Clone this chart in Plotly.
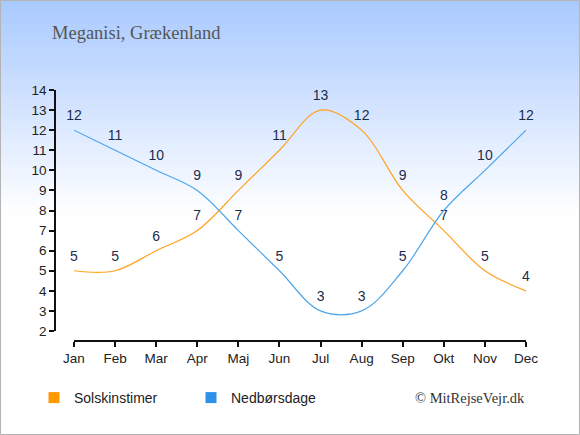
import plotly.graph_objects as go

months = ["Jan", "Feb", "Mar", "Apr", "Maj", "Jun", "Jul", "Aug", "Sep", "Okt", "Nov", "Dec"]
sun_hours = [5, 5, 6, 7, 9, 11, 13, 12, 9, 7, 5, 4]
rain_days = [12, 11, 10, 9, 7, 5, 3, 3, 5, 8, 10, 12]
y_ticks = list(range(2, 15))

W, H = 580, 435
L, R, T, B = 55, 54, 90, 94
pw, ph = W - L - R, H - T - B


def px_x(p):
    return (p - L) / pw


def px_y(p):
    return (H - B - p) / ph


fig = go.Figure()

for name, vals, col in [("Solskinstimer", sun_hours, "#FFA21F"), ("Nedbørsdage", rain_days, "#4DA6EC")]:
    fig.add_trace(
        go.Scatter(
            x=list(range(12)),
            y=vals,
            mode="lines+markers+text",
            text=[str(v) for v in vals],
            textposition="top center",
            textfont=dict(family="Liberation Sans, Arial", size=14, color="#1d2b4c"),
            marker=dict(size=9, color="rgba(0,0,0,0)"),
            line=dict(color=col, width=1.2, shape="spline", smoothing=1),
            cliponaxis=False,
            showlegend=False,
            hoverinfo="skip",
        )
    )

# legend entries as squares
for name, col in [("Solskinstimer", "#FF9900"), ("Nedbørsdage", "#2E90E6")]:
    fig.add_trace(
        go.Scatter(
            x=[None], y=[None], mode="markers", name=name,
            marker=dict(symbol="square", size=11, color=col),
        )
    )

# background gradient and border
shapes = []
steps = 45
top_col = (168, 201, 255)
grad_h = 215
for i in range(steps):
    y0 = i * grad_h / steps
    y1 = (i + 1) * grad_h / steps + 0.5
    t = (i + 0.5) / steps
    c = tuple(round(top_col[k] + (255 - top_col[k]) * t) for k in range(3))
    shapes.append(dict(
        type="rect", xref="paper", yref="paper", layer="below",
        x0=px_x(0), x1=px_x(W), y0=px_y(y1), y1=px_y(y0),
        fillcolor="rgb(%d,%d,%d)" % c, line=dict(width=0),
    ))
shapes.append(dict(
    type="rect", xref="paper", yref="paper", layer="above",
    x0=px_x(0.5), x1=px_x(W - 0.5), y0=px_y(H - 0.5), y1=px_y(0.5),
    line=dict(color="#b4b4b4", width=1),
))

fig.update_layout(
    width=W, height=H,
    margin=dict(l=L, r=R, t=T, b=B),
    paper_bgcolor="white",
    plot_bgcolor="rgba(0,0,0,0)",
    shapes=shapes,
    font=dict(family="Liberation Sans, Arial", size=13, color="#222"),
    xaxis=dict(
        domain=[px_x(74), 1], range=[0, 11], anchor="free", position=0,
        tickmode="array", tickvals=list(range(12)), ticktext=months,
        showgrid=False, zeroline=False, showline=True, linecolor="#111", linewidth=1.5,
        ticks="outside", ticklen=5, tickcolor="#111", tickwidth=1.5,
        tickfont=dict(size=13.5, color="#222"),
    ),
    yaxis=dict(
        domain=[px_y(331), 1], range=[2, 14], anchor="free", position=0,
        tickmode="array", tickvals=y_ticks,
        showgrid=False, zeroline=False, showline=True, linecolor="#111", linewidth=1.5,
        ticks="outside", ticklen=5, tickcolor="#111", tickwidth=1.5,
        tickfont=dict(size=13.5, color="#222"),
    ),
    legend=dict(
        orientation="h", x=px_x(34), y=px_y(398), xanchor="left", yanchor="middle",
        font=dict(size=14, color="#222"), bgcolor="rgba(0,0,0,0)",
        entrywidth=112, entrywidthmode="pixels",
        itemclick=False,
    ),
    annotations=[
        dict(
            text="Meganisi, Grækenland", xref="paper", yref="paper",
            x=px_x(50), y=px_y(33), xanchor="left", yanchor="middle", showarrow=False,
            font=dict(family="Liberation Serif, Times New Roman", size=18.5, color="#555"),
        ),
        dict(
            text="© MitRejseVejr.dk", xref="paper", yref="paper",
            x=px_x(527), y=px_y(398), xanchor="right", yanchor="middle", showarrow=False,
            font=dict(family="Liberation Serif, Times New Roman", size=14.5, color="#333"),
        ),
    ],
)

fig.write_html(
    "out.html",
    config={"displayModeBar": False},
    post_script="document.body.style.margin='0';",
)
